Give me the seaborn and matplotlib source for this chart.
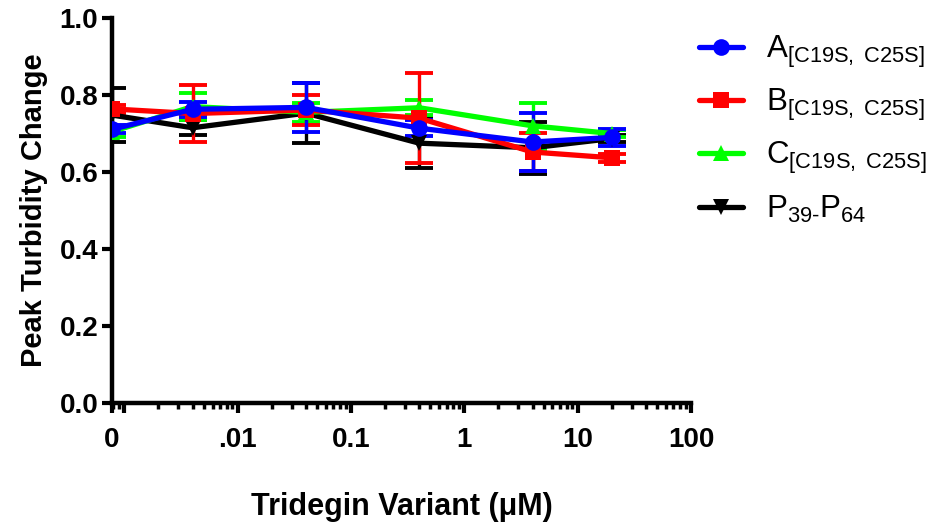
#  Peak turbidity change vs tridegin variant concentration
#  (log x axis, the zero dose is drawn at the left edge and labelled "0")

import pandas as pd
import matplotlib
matplotlib.use('Agg')
import matplotlib.pyplot as plt
import matplotlib.ticker as mticker
import seaborn as sns

# concentrations in uM (0 = no tridegin)
conc = [0, 0.004, 0.04, 0.4, 4, 20]

A_mean = [0.711, 0.763, 0.768, 0.714, 0.678, 0.690]
A_err = [0.010, 0.020, 0.063, 0.020, 0.075, 0.022]
B_mean = [0.764, 0.752, 0.761, 0.740, 0.652, 0.637]
B_err = [0.010, 0.074, 0.040, 0.117, 0.050, 0.010]
C_mean = [0.705, 0.770, 0.755, 0.767, 0.720, 0.700]
C_err = [0.015, 0.035, 0.025, 0.020, 0.060, 0.010]
P_mean = [0.748, 0.715, 0.753, 0.675, 0.663, 0.687]
P_err = [0.070, 0.020, 0.077, 0.065, 0.067, 0.010]

labels = [r'A$_{\mathregular{[C19S,\ C25S]}}$',
          r'B$_{\mathregular{[C19S,\ C25S]}}$',
          r'C$_{\mathregular{[C19S,\ C25S]}}$',
          r'P$_{\mathregular{39\text{-}}}$P$_{\mathregular{64}}$']

sns.set_style('ticks')
plt.rcParams['font.family'] = ['Liberation Sans', 'DejaVu Sans']
plt.rcParams['mathtext.fontset'] = 'custom'
plt.rcParams['mathtext.rm'] = 'Liberation Sans'
plt.rcParams['mathtext.it'] = 'Liberation Sans:italic'
plt.rcParams['mathtext.bf'] = 'Liberation Sans:bold'
for k in ['text.color', 'axes.labelcolor', 'xtick.color', 'ytick.color', 'axes.edgecolor']:
    plt.rcParams[k] = 'black'

# where the zero dose sits on the log axis
zero_pos = 0.00078
xpos = [zero_pos if c == 0 else c for c in conc]

series = [  # drawn bottom -> top
    ('P', P_mean, P_err, 'black', 'v', labels[3]),
    ('C', C_mean, C_err, '#00FF00', '^', labels[2]),
    ('B', B_mean, B_err, '#FF0000', 's', labels[1]),
    ('A', A_mean, A_err, '#0000FF', 'o', labels[0]),
]

fig = plt.figure(figsize=(9.42, 5.31), dpi=100)
ax = fig.add_axes([0.119, 0.241, 0.6145, 0.725])

for key, mean, err, col, mk, lab in series:
    df = pd.DataFrame({'x': xpos, 'y': mean})
    ax.errorbar(df['x'], df['y'], yerr=err, fmt='none', ecolor=col,
                elinewidth=2.4, capsize=10, capthick=2.8, zorder=2)
    sns.lineplot(data=df, x='x', y='y', ax=ax, color=col, marker=mk,
                 markersize=12, markeredgewidth=0, linewidth=3.8,
                 label=lab, zorder=3)

ax.set_xscale('log')
ax.set_xlim(zero_pos, 100)
ax.set_ylim(0, 1.0)

ax.xaxis.set_major_locator(mticker.FixedLocator([zero_pos, 0.001, 0.01, 0.1, 1, 10, 100]))
ax.xaxis.set_major_formatter(mticker.FixedFormatter(['0', '', '.01', '0.1', '1', '10', '100']))
ax.xaxis.set_minor_locator(mticker.LogLocator(base=10, subs=range(2, 10), numticks=20))
ax.xaxis.set_minor_formatter(mticker.NullFormatter())
ax.set_yticks([0, 0.2, 0.4, 0.6, 0.8, 1.0])
ax.set_yticklabels(['0.0', '0.2', '0.4', '0.6', '0.8', '1.0'])

for s in ['top', 'right']:
    ax.spines[s].set_visible(False)
for s in ['left', 'bottom']:
    ax.spines[s].set_linewidth(3.2)

ax.tick_params(axis='both', which='major', width=3, length=7, labelsize=20, direction='out')
ax.tick_params(axis='x', which='major', pad=10)
ax.tick_params(axis='y', which='major', pad=3)
ax.tick_params(axis='x', which='minor', width=2.5, length=4)
for t in ax.get_xticklabels() + ax.get_yticklabels():
    t.set_fontweight('bold')

ax.set_xlabel('Tridegin Variant (\u03bcM)', fontsize=22, fontweight='bold', labelpad=28)
ax.set_ylabel('Peak Turbidity Change', fontsize=21, fontweight='bold', labelpad=8)

# legend outside, A first
h, l = ax.get_legend_handles_labels()
order = [l.index(x) for x in labels]
ax.get_legend().remove()
fig.legend([h[i] for i in order], [l[i] for i in order], loc='upper left',
           bbox_to_anchor=(0.712, 0.99), frameon=False, fontsize=22.5,
           handlelength=1.4, labelspacing=0.55, handletextpad=0.75)

plt.savefig('out.png', dpi=100)
